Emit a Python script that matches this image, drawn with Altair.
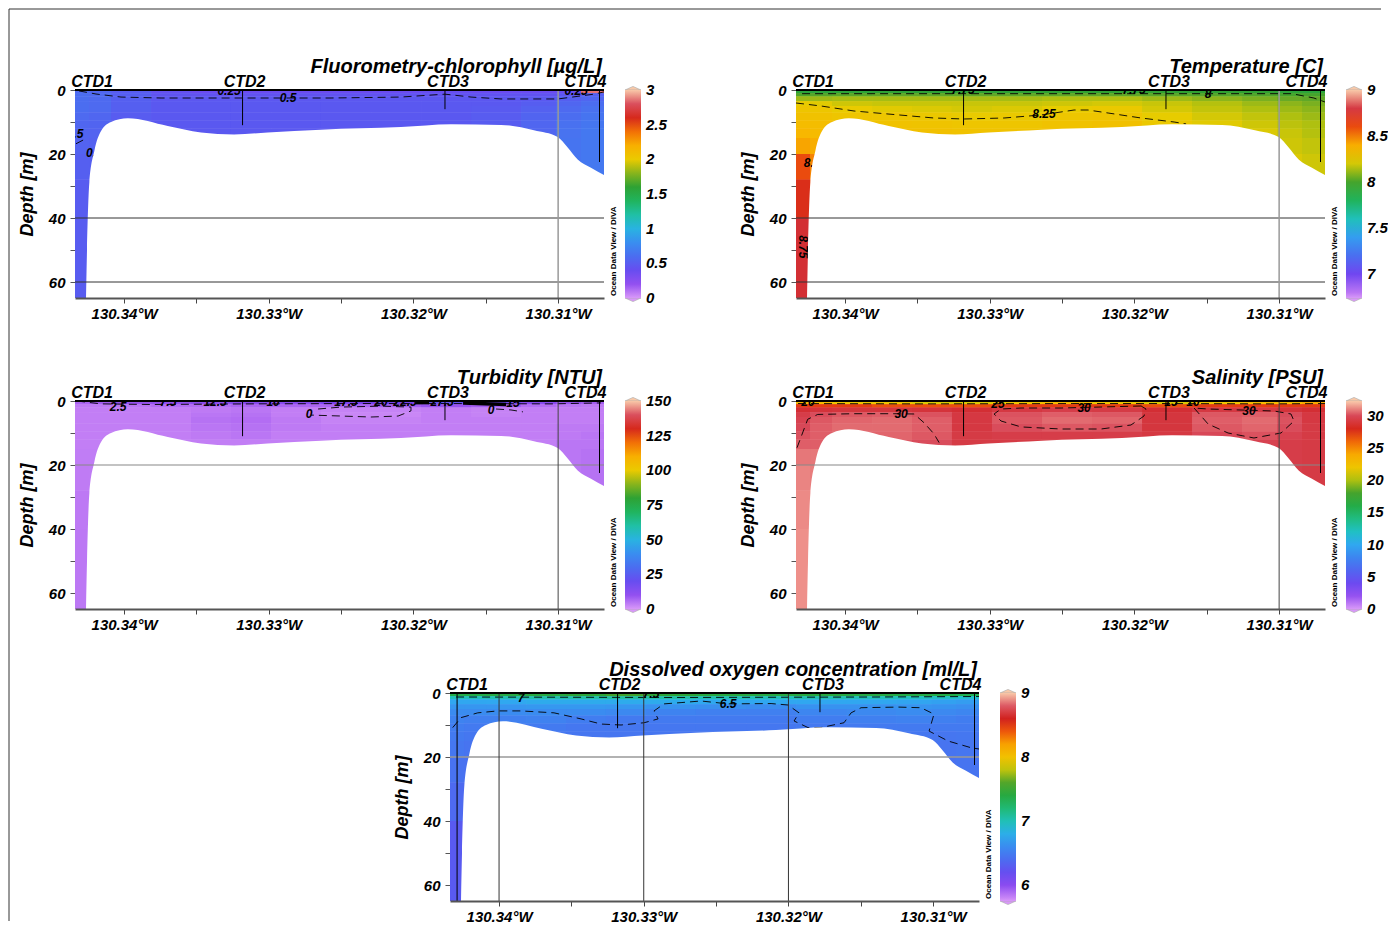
import altair as alt
import pandas as pd

FONT = "Liberation Sans"
W, H = 529, 208

# ---------------- shared section geometry (longitude in deg W, depth in m) ----------------
LON_EDGES = [130.34339, 130.34242, 130.34090, 130.33813, 130.33537, 130.33261, 130.32984,
             130.32639, 130.32293, 130.31947, 130.31602, 130.31256, 130.31014, 130.30842, 130.30683]
DEPTH_EDGES = [0, 1, 2, 3.5, 5, 7, 9.5, 12, 15, 20, 28, 40, 65]
MAX_DEPTH = 65
BOTTOM_LON = [130.34263, 130.34256, 130.34240, 130.34205, 130.34159, 130.34090, 130.33974,
              130.33698, 130.33468, 130.33240, 130.33007, 130.32639, 130.32086, 130.31740,
              130.31395, 130.31167, 130.31003, 130.30934, 130.30865, 130.30773, 130.30683]
BOTTOM_DEPTH = [65, 50, 29, 19, 12.8, 10, 8.85, 11.25, 13.3, 13.9, 13.3, 12.4, 11.6, 10.7,
                10.9, 12.6, 14.7, 18, 21.7, 24.3, 26.6]
X_TICKS = [130.340, 130.335, 130.330, 130.325, 130.320, 130.315, 130.310]
Y_TICKS = [0, 10, 20, 30, 40, 50, 60]
CTD_NAMES = ["CTD1", "CTD2", "CTD3", "CTD4"]
CTD_LON = [130.34290, 130.33181, 130.31782, 130.30714]
CTD_CAST_DEPTH = [65, 11, 6, 22.5]

# ---------------- ODV-like palette (relative positions / colours) ----------------
PAL_POS = [0.0, 0.05, 0.10, 0.16, 0.22, 0.27, 0.31, 0.36, 0.42, 0.48, 0.54, 0.58, 0.62,
           0.66, 0.72, 0.78, 0.83, 0.88, 0.93, 0.97, 1.0]
PAL_COL = ["#d898f8", "#a058f0", "#7840f0", "#5a58f0", "#4478f0", "#3890f0", "#30a8f0",
           "#20c0d0", "#20c090", "#20b050", "#30a030", "#60a828", "#b0c010", "#e8cc00",
           "#f8b800", "#f89000", "#e84010", "#d02020", "#d84858", "#f09890", "#f8c8a8"]

# ---------------- gridded fields (rows = depth layers, cols = longitude cells) ----------------
CHL_FIELD = [
    [0.58, 0.56, 0.5, 0.42, 0.38, 0.38, 0.38, 0.38, 0.38, 0.4, 0.38, 0.38, 0.4, 2.85],
    [0.6, 0.58, 0.52, 0.45, 0.44, 0.44, 0.44, 0.44, 0.44, 0.44, 0.44, 0.44, 0.46, 0.52],
    [0.6, 0.58, 0.52, 0.47, 0.47, 0.47, 0.47, 0.47, 0.47, 0.47, 0.47, 0.48, 0.52, 0.56],
    [0.6, 0.58, 0.52, 0.48, 0.48, 0.48, 0.48, 0.48, 0.48, 0.48, 0.48, 0.51, 0.56, 0.6],
    [0.6, 0.58, 0.52, 0.48, 0.48, 0.48, 0.48, 0.48, 0.48, 0.48, 0.49, 0.53, 0.58, 0.62],
    [0.58, 0.56, 0.5, 0.48, 0.48, 0.48, 0.48, 0.48, 0.48, 0.48, 0.5, 0.55, 0.6, 0.64],
    [0.56, 0.55, 0.5, 0.48, 0.48, 0.48, 0.48, 0.48, 0.48, 0.48, 0.5, 0.56, 0.62, 0.65],
    [0.55, 0.54, 0.5, 0.48, 0.48, 0.48, 0.48, 0.48, 0.48, 0.48, 0.5, 0.56, 0.63, 0.66],
    [0.54, 0.53, 0.5, 0.48, 0.48, 0.48, 0.48, 0.48, 0.48, 0.48, 0.5, 0.56, 0.64, 0.66],
    [0.52, 0.52, 0.5, 0.48, 0.48, 0.48, 0.48, 0.48, 0.48, 0.48, 0.5, 0.56, 0.64, 0.66],
    [0.5, 0.5, 0.5, 0.48, 0.48, 0.48, 0.48, 0.48, 0.48, 0.48, 0.5, 0.56, 0.64, 0.66],
    [0.5, 0.5, 0.5, 0.48, 0.48, 0.48, 0.48, 0.48, 0.48, 0.48, 0.5, 0.56, 0.64, 0.66],
]
TEMP_FIELD = [
    [7.92, 7.92, 7.93, 7.94, 7.94, 7.94, 7.94, 7.95, 7.95, 7.95, 7.95, 7.95, 7.93, 7.92],
    [8.02, 8.03, 8.04, 8.05, 8.05, 8.05, 8.05, 8.05, 8.05, 8.04, 8.03, 8.02, 8.0, 8.0],
    [8.12, 8.12, 8.13, 8.13, 8.13, 8.13, 8.13, 8.14, 8.14, 8.12, 8.1, 8.08, 8.06, 8.05],
    [8.24, 8.22, 8.19, 8.18, 8.18, 8.18, 8.18, 8.19, 8.2, 8.18, 8.15, 8.12, 8.1, 8.08],
    [8.28, 8.27, 8.24, 8.22, 8.21, 8.2, 8.21, 8.23, 8.25, 8.2, 8.17, 8.14, 8.12, 8.1],
    [8.31, 8.3, 8.28, 8.27, 8.26, 8.24, 8.25, 8.27, 8.28, 8.23, 8.2, 8.17, 8.14, 8.12],
    [8.34, 8.33, 8.31, 8.3, 8.29, 8.28, 8.28, 8.3, 8.31, 8.26, 8.22, 8.19, 8.16, 8.14],
    [8.37, 8.35, 8.33, 8.32, 8.31, 8.3, 8.3, 8.31, 8.32, 8.28, 8.24, 8.21, 8.18, 8.15],
    [8.43, 8.4, 8.35, 8.33, 8.32, 8.31, 8.31, 8.32, 8.33, 8.29, 8.25, 8.22, 8.19, 8.17],
    [8.6, 8.52, 8.4, 8.34, 8.33, 8.32, 8.32, 8.33, 8.33, 8.3, 8.26, 8.23, 8.21, 8.19],
    [8.68, 8.6, 8.42, 8.35, 8.33, 8.32, 8.32, 8.33, 8.33, 8.3, 8.26, 8.23, 8.21, 8.2],
    [8.77, 8.7, 8.44, 8.35, 8.33, 8.32, 8.32, 8.33, 8.33, 8.3, 8.26, 8.23, 8.21, 8.2],
]
TURB_FIELD = [
    [6, 7, 9, 10, 11, 12, 12, 14, 16, 22, 18, 12, 9, 7],
    [3.5, 3.5, 4, 5, 5, 6, 6, 6, 7, 9, 7, 5, 4, 3.5],
    [3, 3, 3, 3, 3.5, 4, 3, 2.5, 2.5, 3, 2.5, 3, 3, 3],
    [3, 3, 3, 3, 4, 4.5, 3, 2, 2, 3, 2.5, 3, 3, 3],
    [3, 3, 3, 3, 4.5, 5, 3.5, 2.5, 2.5, 3, 3, 3, 3, 3],
    [3, 3, 3, 3, 4, 4.5, 3.5, 3, 3, 3, 3, 3, 3.5, 3.5],
    [3, 3, 3, 3, 3.5, 4, 3, 3, 3, 3, 3, 3, 3.5, 4],
    [3, 3, 3, 3, 3, 3, 3, 3, 3, 3, 3, 3, 4, 4],
    [3.2, 3.2, 3, 3, 3, 3, 3, 3, 3, 3, 3, 3, 4, 4.5],
    [3.4, 3.3, 3, 3, 3, 3, 3, 3, 3, 3, 3, 3, 4, 4.5],
    [3.6, 3.4, 3, 3, 3, 3, 3, 3, 3, 3, 3, 3, 4, 4.5],
    [3.8, 3.5, 3, 3, 3, 3, 3, 3, 3, 3, 3, 3, 4, 4.5],
]
SAL_FIELD = [
    [23, 23, 22, 22, 21, 21, 22, 23, 22, 21, 22, 23, 23, 24],
    [27, 27, 27, 26.5, 26.5, 26.5, 27, 27, 27, 26.5, 27, 27, 27, 27],
    [29, 29.2, 29.3, 29.3, 29.2, 29, 29.4, 29.6, 29.5, 29, 29.4, 29.5, 29.2, 29],
    [29.6, 30.1, 30.3, 30.4, 30.2, 29.4, 30.2, 30.4, 30.3, 29.3, 30.3, 30.4, 30.1, 29.4],
    [29.8, 30.3, 30.5, 30.6, 30.4, 29.4, 30.3, 30.6, 30.5, 29.3, 30.4, 30.6, 30.2, 29.4],
    [30.0, 30.4, 30.6, 30.6, 30.4, 29.4, 30.1, 30.3, 30.2, 29.3, 30.3, 30.5, 30.1, 29.5],
    [30.2, 30.4, 30.5, 30.5, 30.3, 29.5, 29.6, 29.6, 29.6, 29.4, 30.0, 30.2, 29.8, 29.5],
    [30.4, 30.4, 30.4, 30.3, 30.1, 29.5, 29.5, 29.5, 29.5, 29.5, 29.6, 29.8, 29.6, 29.5],
    [30.8, 30.8, 30.5, 30.3, 30.1, 29.5, 29.5, 29.5, 29.5, 29.5, 29.5, 29.6, 29.6, 29.5],
    [31.0, 30.9, 30.5, 30.3, 30.1, 29.5, 29.5, 29.5, 29.5, 29.5, 29.5, 29.6, 29.6, 29.5],
    [31.1, 31.0, 30.5, 30.3, 30.1, 29.5, 29.5, 29.5, 29.5, 29.5, 29.5, 29.6, 29.6, 29.5],
    [31.2, 31.1, 30.5, 30.3, 30.1, 29.5, 29.5, 29.5, 29.5, 29.5, 29.5, 29.6, 29.6, 29.5],
]
OXY_FIELD = [
    [7.35, 7.35, 7.38, 7.4, 7.45, 7.55, 7.45, 7.4, 7.38, 7.4, 7.38, 7.36, 7.35, 7.3],
    [6.98, 6.98, 7.0, 7.02, 7.03, 7.05, 7.03, 7.0, 6.98, 7.0, 6.98, 6.96, 6.95, 6.92],
    [6.75, 6.75, 6.76, 6.78, 6.78, 6.78, 6.78, 6.76, 6.75, 6.75, 6.75, 6.74, 6.72, 6.7],
    [6.66, 6.66, 6.66, 6.67, 6.67, 6.66, 6.64, 6.62, 6.6, 6.64, 6.64, 6.65, 6.64, 6.62],
    [6.6, 6.6, 6.6, 6.6, 6.6, 6.58, 6.54, 6.52, 6.52, 6.56, 6.58, 6.6, 6.58, 6.56],
    [6.54, 6.52, 6.52, 6.53, 6.5, 6.48, 6.48, 6.48, 6.48, 6.5, 6.52, 6.53, 6.52, 6.5],
    [6.5, 6.48, 6.48, 6.48, 6.46, 6.46, 6.46, 6.46, 6.46, 6.47, 6.48, 6.48, 6.48, 6.48],
    [6.48, 6.46, 6.46, 6.46, 6.45, 6.45, 6.45, 6.45, 6.45, 6.46, 6.46, 6.46, 6.45, 6.46],
    [6.46, 6.44, 6.44, 6.44, 6.44, 6.44, 6.44, 6.44, 6.44, 6.44, 6.44, 6.44, 6.44, 6.45],
    [6.43, 6.42, 6.42, 6.42, 6.42, 6.42, 6.42, 6.42, 6.42, 6.42, 6.42, 6.42, 6.42, 6.44],
    [6.38, 6.38, 6.4, 6.4, 6.4, 6.4, 6.4, 6.4, 6.4, 6.4, 6.4, 6.4, 6.4, 6.42],
    [6.28, 6.3, 6.4, 6.4, 6.4, 6.4, 6.4, 6.4, 6.4, 6.4, 6.4, 6.4, 6.4, 6.42],
]

# ---------------- contour lines (lon deg W, depth m) ----------------
CHL_C1_LON = [130.34311, 130.34194, 130.34021, 130.33744, 130.33191, 130.32569, 130.32086,
              130.31782, 130.31602, 130.31395, 130.31001, 130.30753, 130.30683]
CHL_C1_DEP = [0.3, 1.25, 2.2, 2.5, 2.5, 2.5, 2.2, 1.3, 2.2, 2.8, 2.8, 1.3, 0.6]
CHL_C2_LON = [130.34332, 130.34256]
CHL_C2_DEP = [16.8, 15.0]
CHL_LBL_TXT = ["0.5", "0.5", "0.5", "0.25", "0.25"]
CHL_LBL_LON = [130.32867, 130.34339, 130.34205, 130.33274, 130.30876]
CHL_LBL_DEP = [2.4, 13.7, 19.7, 0.2, 0.3]

TEMP_C1_LON = [130.34339, 130.34166, 130.33938, 130.33703, 130.33385, 130.33178, 130.32901,
               130.32645, 130.32417, 130.32321, 130.32182, 130.31954, 130.31726, 130.31643]
TEMP_C1_DEP = [4.06, 5.0, 6.56, 7.5, 8.75, 9.06, 8.75, 7.81, 6.25, 6.25, 7.19, 8.75, 10.0, 10.6]
TEMP_C2_LON = [130.34297, 130.32777, 130.31395, 130.30911, 130.30760, 130.30683]
TEMP_C2_DEP = [1.15, 1.15, 1.15, 1.15, 2.5, 3.75]
TEMP_LBL_TXT = ["8.25", "8", "7.75", "7.75", "8.5", "8.75"]
TEMP_LBL_LON = [130.32625, 130.31491, 130.33185, 130.32003, 130.34228, 130.34290]
TEMP_LBL_DEP = [7.4, 1.2, 0.15, 0.15, 22.7, 49]
TEMP_LBL_ANG = [0, 0, 0, 0, 0, 90]

TURB_C1_LON = [130.34325, 130.34159, 130.33813, 130.33122, 130.32431, 130.31740, 130.31049, 130.30704]
TURB_C1_DEP = [0.0, 0.9, 1.1, 0.9, 0.8, 0.8, 0.9, 0.6]
TURB_C2_LON = [130.32659, 130.32500, 130.32224, 130.32017, 130.32017, 130.32106, 130.32293,
               130.32500, 130.32708]
TURB_C2_DEP = [2.5, 1.9, 1.6, 1.9, 3.1, 4.7, 5.0, 4.7, 4.4]
TURB_C3_LON = [130.31429, 130.31326, 130.31243]
TURB_C3_DEP = [2.5, 2.8, 3.4]
TURB_S1_LON = [130.31982, 130.31892]
TURB_S1_DEP = [0.5, 0.5]
TURB_S2_LON = [130.31657, 130.31360]
TURB_S2_DEP = [0.6, 1.1]
TURB_LBL_TXT = ["2.5", "7.5", "12.5", "10", "17.5", "20", "22.5", "27.5", "15", "0", "0"]
TURB_LBL_LON = [130.34041, 130.33696, 130.33371, 130.32970, 130.32466, 130.32224, 130.32058,
                130.31802, 130.31312, 130.32722, 130.31464]
TURB_LBL_DEP = [1.9, 0.3, 0.2, 0.3, 0.2, 0.3, 0.3, 0.3, 0.6, 4.0, 2.8]

SAL_C1_LON = [130.34332, 130.34258, 130.34189, 130.33938, 130.33661, 130.33523, 130.33454,
              130.33385, 130.33350]
SAL_C1_DEP = [14.6, 5.7, 4.2, 3.97, 3.97, 4.06, 6.8, 10.3, 13.0]
SAL_C2_LON = [130.31954, 130.32231, 130.32507, 130.32784, 130.32922, 130.32970, 130.32922,
              130.32784, 130.32507, 130.32231, 130.32024, 130.31934, 130.31920, 130.31954]
SAL_C2_DEP = [1.56, 1.88, 2.19, 2.19, 2.5, 4.06, 6.25, 8.1, 8.75, 8.75, 7.5, 4.7, 2.5, 1.56]
SAL_C3_LON = [130.31588, 130.31491, 130.31353, 130.31174, 130.30987, 130.30897, 130.30918,
              130.31035, 130.31263, 130.31491, 130.31588]
SAL_C3_DEP = [2.19, 7.19, 10.0, 11.56, 10.0, 6.25, 4.06, 3.13, 2.81, 2.5, 2.19]
SAL_C4_LON = [130.34325, 130.33468, 130.32431, 130.31740, 130.31049, 130.30683]
SAL_C4_DEP = [0.8, 0.9, 0.8, 0.8, 0.9, 0.8]
SAL_LBL_TXT = ["30", "30", "30", "20", "25", "15", "10"]
SAL_LBL_LON = [130.33613, 130.32348, 130.31208, 130.34256, 130.32943, 130.31747, 130.31595]
SAL_LBL_DEP = [4.0, 2.3, 3.1, 0.2, 0.9, 0.3, 0.2]

OXY_C1_LON = [130.34320, 130.34263, 130.34147, 130.34009, 130.33848, 130.33620, 130.33433,
              130.33295, 130.33157, 130.32998, 130.32901, 130.32929, 130.32860, 130.32742,
              130.32604, 130.32417, 130.32120, 130.32003, 130.31927, 130.31961, 130.31865,
              130.31775, 130.31616, 130.31567, 130.31498, 130.31243, 130.31084, 130.30994,
              130.31028, 130.30897, 130.30738, 130.30683]
OXY_C1_DEP = [10.8, 7.7, 6.2, 5.6, 5.6, 6.2, 8.1, 9.7, 10.0, 9.3, 8.1, 5.6, 3.4, 3.0, 2.5, 3.4,
              3.3, 3.75, 6.2, 8.75, 10.8, 10.8, 9.3, 6.2, 4.6, 4.4, 4.6, 6.6, 11.9, 15.0, 17.1, 17.5]
OXY_C2_LON = [130.34297, 130.32777, 130.31395, 130.30683]
OXY_C2_DEP = [1.25, 1.4, 1.25, 1.1]
OXY_LBL_TXT = ["6.5", "7", "7.5"]
OXY_LBL_LON = [130.32417, 130.33848, 130.32950]
OXY_LBL_DEP = [3.4, 1.5, 0.2]

# ---------------- panel definitions ----------------
PANELS = {
    "chl": dict(title="Fluorometry-chlorophyll [µg/L]", field=CHL_FIELD, rng=(0, 3),
                lvals=[0, 0.5, 1, 1.5, 2, 2.5, 3], fmt=".1~f",
                contours=[(CHL_C1_LON, CHL_C1_DEP), (CHL_C2_LON, CHL_C2_DEP)], solid=[],
                labels=(CHL_LBL_TXT, CHL_LBL_LON, CHL_LBL_DEP, None),
                gy=[40, 60], gy_col="#333333", gy_w=1, gx=[130.31], gx_col="#999999", gx_w=1.5,
                stations=[1, 2, 3]),
    "temp": dict(title="Temperature [C]", field=TEMP_FIELD, rng=(6.74, 9),
                 lvals=[7, 7.5, 8, 8.5, 9], fmt=".1~f",
                 contours=[(TEMP_C1_LON, TEMP_C1_DEP), (TEMP_C2_LON, TEMP_C2_DEP)], solid=[],
                 labels=(TEMP_LBL_TXT, TEMP_LBL_LON, TEMP_LBL_DEP, TEMP_LBL_ANG),
                 gy=[40, 60], gy_col="#333333", gy_w=1, gx=[130.31], gx_col="#999999", gx_w=1.5,
                 stations=[1, 2, 3]),
    "turb": dict(title="Turbidity [NTU]", field=TURB_FIELD, rng=(0, 150),
                 lvals=[0, 25, 50, 75, 100, 125, 150], fmt="d",
                 contours=[(TURB_C1_LON, TURB_C1_DEP), (TURB_C2_LON, TURB_C2_DEP),
                           (TURB_C3_LON, TURB_C3_DEP)],
                 solid=[(TURB_S1_LON, TURB_S1_DEP), (TURB_S2_LON, TURB_S2_DEP)],
                 labels=(TURB_LBL_TXT, TURB_LBL_LON, TURB_LBL_DEP, None),
                 gy=[20], gy_col="#888888", gy_w=1.2, gx=[130.31], gx_col="#444444", gx_w=1,
                 stations=[1, 2, 3]),
    "sal": dict(title="Salinity [PSU]", field=SAL_FIELD, rng=(0, 32.3),
                lvals=[0, 5, 10, 15, 20, 25, 30], fmt="d",
                contours=[(SAL_C1_LON, SAL_C1_DEP), (SAL_C2_LON, SAL_C2_DEP),
                          (SAL_C3_LON, SAL_C3_DEP), (SAL_C4_LON, SAL_C4_DEP)], solid=[],
                labels=(SAL_LBL_TXT, SAL_LBL_LON, SAL_LBL_DEP, None),
                gy=[20], gy_col="#888888", gy_w=1.2, gx=[130.31], gx_col="#444444", gx_w=1,
                stations=[1, 2, 3]),
    "oxy": dict(title="Dissolved oxygen concentration [ml/L]", field=OXY_FIELD, rng=(5.75, 9),
                lvals=[6, 7, 8, 9], fmt="d",
                contours=[(OXY_C1_LON, OXY_C1_DEP), (OXY_C2_LON, OXY_C2_DEP)], solid=[],
                labels=(OXY_LBL_TXT, OXY_LBL_LON, OXY_LBL_DEP, None),
                gy=[20], gy_col="#999999", gy_w=1.5, gx=[130.34, 130.33, 130.32],
                gx_col="#333333", gx_w=1, stations=[0, 1, 2, 3]),
}
CTD_LABEL_DX = [10, 2, 3, -14]

TXT = dict(font=FONT, fontWeight="bold", fontStyle="italic", color="black")
CAP_TOP = "M -1 0 L 0 -0.45 L 1 0 Z"
CAP_BOTTOM = "M -1 0 L 0 0.45 L 1 0 Z"


def line_df(lines):
    rows = []
    for i, (lons, deps) in enumerate(lines):
        for k, (lo, d) in enumerate(zip(lons, deps)):
            rows.append(dict(x=-lo, y=d, id=i, k=k))
    return pd.DataFrame(rows)


def make_panel(cfg, frame=False):
    xenc = alt.X("x:Q", title=None,
                 scale=alt.Scale(domain=[-LON_EDGES[0], -LON_EDGES[-1]], nice=False, zero=False),
                 axis=alt.Axis(values=[-t for t in X_TICKS],
                               labelExpr="abs(round(datum.value*1000)) % 10 == 0 ? format(-datum.value, '.2f') + '°W' : ''",
                               tickSize=5, tickColor="#444444", domainColor="#555555", domainWidth=2,
                               labelFont=FONT, labelFontSize=15, labelFontWeight="bold",
                               labelFontStyle="italic", labelColor="black", labelPadding=3,
                               labelFlush=False, labelOverlap=False, grid=False, zindex=1))
    yenc = alt.Y("y:Q", title="Depth [m]",
                 scale=alt.Scale(domain=[0, MAX_DEPTH], reverse=True, nice=False, zero=False),
                 axis=alt.Axis(values=Y_TICKS, labelExpr="datum.value % 20 == 0 ? datum.label : ''",
                               tickSize=5, tickColor="#555555", domain=False, grid=False,
                               labelFont=FONT, labelFontSize=15, labelFontWeight="bold",
                               labelFontStyle="italic", labelColor="black", labelPadding=5,
                               labelFlush=False, labelOverlap=False,
                               titleFont=FONT, titleFontSize=18, titleFontWeight="bold",
                               titleFontStyle="italic", titleColor="black", titlePadding=12))

    mn, mx = cfg["rng"]
    eps = (mx - mn) * 1e-5
    # keep end labels centred on their value (nudged a hair inside the bar ends)
    lvals = [min(max(v, mn + eps), mx - eps) for v in cfg["lvals"]]
    cscale = alt.Scale(domain=[mn + f * (mx - mn) for f in PAL_POS], range=PAL_COL,
                       interpolate="rgb", clamp=True)
    legend = alt.Legend(type="gradient", orient="none", legendX=W + 21, legendY=0,
                        direction="vertical", gradientLength=H, gradientThickness=16, title=None,
                        values=lvals, format=cfg["fmt"], labelFont=FONT, labelFontSize=15,
                        labelFontWeight="bold", labelFontStyle="italic", labelColor="black",
                        labelOffset=5, labelOverlap=False, gradientStrokeWidth=0, padding=0)

    cells = []
    for r in range(len(DEPTH_EDGES) - 1):
        for c in range(len(LON_EDGES) - 1):
            cells.append(dict(x=-LON_EDGES[c], x2=-LON_EDGES[c + 1], y=DEPTH_EDGES[r],
                              y2=DEPTH_EDGES[r + 1], v=cfg["field"][r][c]))
    cell_df = pd.DataFrame(cells)
    field_enc = dict(x=xenc, x2="x2:Q", y=yenc, y2="y2:Q",
                     color=alt.Color("v:Q", scale=cscale, legend=legend))
    # the cell layer is painted twice so that anti-aliased seams between cells vanish
    layers = [alt.Chart(cell_df).mark_rect(clip=True).encode(**field_enc),
              alt.Chart(cell_df).mark_rect(clip=True).encode(**field_enc)]

    layers.append(alt.Chart(line_df(cfg["contours"])).mark_line(
        color="black", strokeWidth=0.9, strokeDash=[8, 5], clip=True).encode(
        x=xenc, y=yenc, detail="id:N", order="k:Q"))
    if cfg["solid"]:
        layers.append(alt.Chart(line_df(cfg["solid"])).mark_line(
            color="black", strokeWidth=3.5, clip=True).encode(
            x=xenc, y=yenc, detail="id:N", order="k:Q"))
    txt, lons, deps, angs = cfg["labels"]
    ldf = pd.DataFrame(dict(x=[-v for v in lons], y=deps, t=txt,
                            a=angs if angs is not None else [0] * len(txt)))
    layers.append(alt.Chart(ldf).mark_text(fontSize=12, clip=True, **TXT).encode(
        x=xenc, y=yenc, text="t:N", angle=alt.Angle("a:Q", scale=None)))

    bdf = pd.DataFrame(dict(x=[-v for v in BOTTOM_LON], y=BOTTOM_DEPTH))
    layers.append(alt.Chart(bdf).mark_area(color="white", opacity=1, clip=True,
                                           interpolate="monotone").encode(
        x=xenc, y=yenc, y2=alt.datum(MAX_DEPTH)))

    layers.append(alt.Chart(pd.DataFrame(dict(y=cfg["gy"]))).mark_rule(
        color=cfg["gy_col"], strokeWidth=cfg["gy_w"]).encode(y=yenc))
    layers.append(alt.Chart(pd.DataFrame(dict(x=[-v for v in cfg["gx"]]))).mark_rule(
        color=cfg["gx_col"], strokeWidth=cfg["gx_w"]).encode(x=xenc))

    sdf = pd.DataFrame(dict(x=[-CTD_LON[i] for i in cfg["stations"]],
                            y=[0] * len(cfg["stations"]),
                            y2=[CTD_CAST_DEPTH[i] for i in cfg["stations"]]))
    layers.append(alt.Chart(sdf).mark_rule(color="black", strokeWidth=1).encode(
        x=xenc, y=yenc, y2="y2:Q"))
    layers.append(alt.Chart(pd.DataFrame(dict(y=[0]))).mark_rule(
        color="black", strokeWidth=2).encode(y=yenc))

    for i, name in enumerate(CTD_NAMES):
        layers.append(alt.Chart(pd.DataFrame(dict(x=[-CTD_LON[i]], t=[name]))).mark_text(
            fontSize=16, baseline="alphabetic", dx=CTD_LABEL_DX[i], **TXT).encode(
            x=xenc, y=alt.value(-3), text="t:N"))

    layers.append(alt.Chart(pd.DataFrame(dict(t=[cfg["title"]]))).mark_text(
        fontSize=20, align="right", baseline="alphabetic", **TXT).encode(
        x=alt.value(W - 2), y=alt.value(-17), text="t:N"))
    layers.append(alt.Chart(pd.DataFrame(dict(t=["Ocean Data View / DIVA"]))).mark_text(
        fontSize=8, angle=270, align="left", baseline="middle", font=FONT,
        fontWeight="bold", color="black").encode(
        x=alt.value(W + 10), y=alt.value(H - 2), text="t:N"))

    # colour-bar end caps (ODV style pointed ends)
    cap = pd.DataFrame(dict(t=[0]))
    layers.append(alt.Chart(cap).mark_point(shape=CAP_TOP, size=256, filled=True,
                                            fill=PAL_COL[-1], stroke="#aaaaaa", strokeWidth=0.6,
                                            opacity=1, clip=False).encode(
        x=alt.value(W + 29), y=alt.value(0)))
    layers.append(alt.Chart(cap).mark_point(shape=CAP_BOTTOM, size=256, filled=True,
                                            fill=PAL_COL[0], stroke="#aaaaaa", strokeWidth=0.6,
                                            opacity=1, clip=False).encode(
        x=alt.value(W + 29), y=alt.value(H)))

    if frame:
        fdf = pd.DataFrame(dict(t=[0]))
        layers.append(alt.Chart(fdf).mark_rule(color="#333333", strokeWidth=1, clip=False).encode(
            x=alt.value(-66), y=alt.value(-81), y2=alt.value(831)))
        layers.append(alt.Chart(fdf).mark_rule(color="#333333", strokeWidth=1, clip=False).encode(
            x=alt.value(-66), x2=alt.value(1306), y=alt.value(-81)))

    return alt.layer(*layers).properties(width=W, height=H)


RES = dict(color="independent")
p_chl = make_panel(PANELS["chl"], frame=True)
p_temp = make_panel(PANELS["temp"])
p_turb = make_panel(PANELS["turb"])
p_sal = make_panel(PANELS["sal"])
p_oxy = make_panel(PANELS["oxy"])

spacer = alt.Chart(pd.DataFrame(dict(s=[0]))).mark_point(opacity=0).encode(
    x=alt.X("s:Q", axis=None), y=alt.Y("s:Q", axis=None)).properties(width=355, height=H)

# With flush bounds, nested concat groups occupy no height, so spacing = row offset.
row1 = alt.hconcat(p_chl, p_temp, spacing=192, bounds="flush").resolve_scale(**RES)
row2 = alt.hconcat(p_turb, p_sal, spacing=192, bounds="flush").resolve_scale(**RES)
top = alt.vconcat(row1, row2, spacing=311, bounds="flush").resolve_scale(**RES)
row3 = alt.hconcat(spacer, p_oxy, spacing=20, bounds="flush").resolve_scale(**RES)

chart = alt.vconcat(top, row3, spacing=603, bounds="flush").resolve_scale(**RES).configure_view(
    stroke=None).properties(padding=0, background="white")

chart.save("out.html", embed_options={"renderer": "svg", "actions": False})
